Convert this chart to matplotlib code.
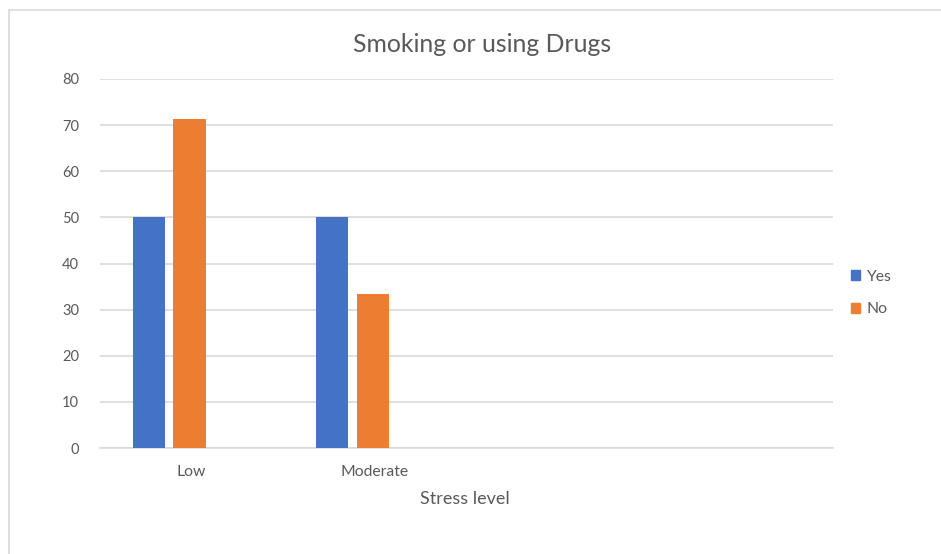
import numpy as np
import matplotlib
matplotlib.use("Agg")
import matplotlib.pyplot as plt
from matplotlib.patches import Patch, Rectangle

# data
categories = ["Low", "Moderate", "", ""]
yes_values = [50.0, 50.0, np.nan, np.nan]
no_values = [71.43, 33.33, np.nan, np.nan]
series_names = ["Yes", "No"]
y_ticks = [0, 10, 20, 30, 40, 50, 60, 70, 80]

BLUE = "#4472C4"
ORANGE = "#ED7D31"
GRID = "#D9D9D9"
TEXT = "#595959"

plt.rcParams['font.family'] = ['Lato', 'DejaVu Sans']


def make_chart():
    fig = plt.figure(figsize=(9.41, 5.54), dpi=100)
    fig.patch.set_facecolor("white")

    # light frame around the chart area (only left/top visible)
    fig.patches.append(Rectangle((9 / 941, -0.05), 1.2, 1.05 - 10 / 554,
                                 transform=fig.transFigure, fill=False,
                                 edgecolor=GRID, linewidth=1.2))

    ax = fig.add_axes([100 / 941, 1 - 448 / 554, 733 / 941, 369 / 554])
    x = np.arange(len(categories))
    width = 0.178
    ax.bar(x - 0.233, yes_values, width, color=BLUE, zorder=3)
    ax.bar(x - 0.01, no_values, width, color=ORANGE, zorder=3)

    ax.set_xlim(-0.5, len(categories) - 0.5)
    ax.set_ylim(0, 80)
    ax.set_yticks(y_ticks)
    ax.set_xticks(x)
    ax.set_xticklabels(categories)

    ax.grid(axis="y", color=GRID, linewidth=1.2, zorder=0)
    for side in ["top", "right", "left"]:
        ax.spines[side].set_visible(False)
    ax.spines["bottom"].set_color(GRID)
    ax.spines["bottom"].set_linewidth(1.2)
    ax.tick_params(axis="both", length=0, labelsize=11.3, labelcolor=TEXT)
    ax.tick_params(axis="y", labelsize=10.5, pad=15)
    ax.tick_params(axis="x", pad=12)

    fig.text(482 / 941, 1 - 44 / 554, "Smoking or using Drugs", ha="center",
             va="center", fontsize=17.8, color=TEXT)
    fig.text(465 / 941, 1 - 499 / 554, "Stress level", ha="center",
             va="center", fontsize=13, color=TEXT)

    handles = [Patch(color=BLUE), Patch(color=ORANGE)]
    fig.legend(handles, series_names, loc="center left",
               bbox_to_anchor=(837 / 941, 1 - 293 / 554), frameon=False,
               handlelength=0.55, handleheight=0.55, handletextpad=0.4,
               labelspacing=1.2, fontsize=11.3, labelcolor=TEXT)

    fig.savefig("out.png", dpi=100)
    plt.close(fig)


if __name__ == "__main__":
    make_chart()
